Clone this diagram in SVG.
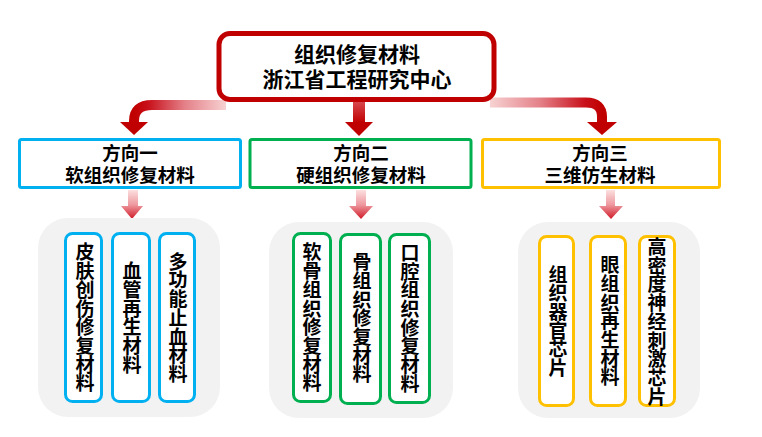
<svg xmlns="http://www.w3.org/2000/svg" width="762" height="437" viewBox="0 0 762 437">
<defs>
<style>
.t{font-family:"Noto Sans CJK SC","Noto Sans",sans-serif;font-weight:bold;fill:#000;text-anchor:middle}
.h1{font-size:21px}
.h2{font-size:18.5px}
.v{font-size:19px;writing-mode:vertical-rl;letter-spacing:-0.3px}
.panel{fill:#F2F2F2}
.dir{fill:#fff;stroke-width:3}
.item{fill:#fff;stroke-width:3}
.blue{stroke:#00B0F0}
.green{stroke:#00B050}
.yellow{stroke:#FFC000}
.head{fill:#C00000}
</style>
<linearGradient id="gL" gradientUnits="userSpaceOnUse" x1="226" y1="0" x2="134" y2="0">
<stop offset="0" stop-color="#F7D2D2"/>
<stop offset="0.45" stop-color="#E48088"/>
<stop offset="0.85" stop-color="#C8101A"/>
<stop offset="1" stop-color="#C00000"/>
</linearGradient>
<linearGradient id="gR" gradientUnits="userSpaceOnUse" x1="490" y1="0" x2="602" y2="0">
<stop offset="0" stop-color="#F7D2D2"/>
<stop offset="0.45" stop-color="#E48088"/>
<stop offset="0.85" stop-color="#C8101A"/>
<stop offset="1" stop-color="#C00000"/>
</linearGradient>
<linearGradient id="gM" x1="0" y1="0" x2="0" y2="1">
<stop offset="0" stop-color="#D84A50"/>
<stop offset="1" stop-color="#C00000"/>
</linearGradient>
<linearGradient id="gD" x1="0" y1="0" x2="0" y2="1">
<stop offset="0" stop-color="#FCE0E0"/>
<stop offset="0.5" stop-color="#EE9AA0"/>
<stop offset="1" stop-color="#D01A28"/>
</linearGradient>
</defs>
<rect width="762" height="437" fill="#fff"/>

<g id="connectors">
<path d="M226 105 L152 105 Q134 105 134 121 L134 123" fill="none" stroke="url(#gL)" stroke-width="10"/>
<polygon class="head" points="120,122 148,122 134,135"/>
<path d="M490 102.5 L586 102.5 Q602 102.5 602 117 L602 123" fill="none" stroke="url(#gR)" stroke-width="10"/>
<polygon class="head" points="587,122 617,122 602,135"/>
<rect x="353" y="101" width="12" height="22" fill="url(#gM)"/>
<polygon class="head" points="345,122 373,122 359,136"/>
<path d="M128 190 H138 V206 H143 L132 219 L121 206 H128 Z" fill="url(#gD)"/>
<path d="M356 190 H366 V206 H373 L361 219 L349 206 H356 Z" fill="url(#gD)"/>
<path d="M606 190 H615 V206 H623 L611 219 L599 206 H606 Z" fill="url(#gD)"/>
</g>

<g id="root">
<rect x="219" y="33.5" width="275" height="66" rx="11" fill="#fff" stroke="#C00000" stroke-width="5"/>
<text class="t h1"><tspan x="357" y="62">组织修复材料</tspan><tspan x="357" y="87">浙江省工程研究中心</tspan></text>
</g>

<g id="dir1">
<rect class="dir blue" x="19.5" y="139.5" width="221" height="48" rx="2"/>
<text class="t h2"><tspan x="130" y="159.5">方向一</tspan><tspan x="130" y="182">软组织修复材料</tspan></text>
</g>
<g id="dir2">
<rect class="dir green" x="250" y="139.5" width="221" height="48" rx="2"/>
<text class="t h2"><tspan x="361" y="159.5">方向二</tspan><tspan x="361" y="182">硬组织修复材料</tspan></text>
</g>
<g id="dir3">
<rect class="dir yellow" x="482.5" y="139.5" width="237" height="48" rx="2"/>
<text class="t h2"><tspan x="600" y="159.5">方向三</tspan><tspan x="600" y="182">三维仿生材料</tspan></text>
</g>

<g id="panel1">
<rect class="panel" x="38" y="218" width="182" height="199" rx="30"/>
</g>
<g id="panel2">
<rect class="panel" x="269" y="222" width="184" height="196" rx="30"/>
</g>
<g id="panel3">
<rect class="panel" x="518" y="222" width="182" height="196" rx="30"/>
</g>

<g id="item1a">
<rect class="item blue" x="65.5" y="233.5" width="36" height="168" rx="7"/>
<text class="t v" x="85" y="317.5">皮肤创伤修复材料</text>
</g>
<g id="item1b">
<rect class="item blue" x="112.5" y="233.5" width="37" height="168" rx="7"/>
<text class="t v" x="132" y="317.5">血管再生材料</text>
</g>
<g id="item1c">
<rect class="item blue" x="159.5" y="233.5" width="35" height="168" rx="7"/>
<text class="t v" x="178" y="317.5">多功能止血材料</text>
</g>

<g id="item2a">
<rect class="item green" x="293.5" y="233.5" width="37" height="168" rx="7"/>
<text class="t v" x="312" y="317.5">软骨组织修复材料</text>
</g>
<g id="item2b">
<rect class="item green" x="340.5" y="234.5" width="40" height="169" rx="7"/>
<text class="t v" x="362" y="318">骨组织修复材料</text>
</g>
<g id="item2c">
<rect class="item green" x="389.5" y="234.5" width="40" height="168" rx="7"/>
<text class="t v" x="410" y="318">口腔组织修复材料</text>
</g>

<g id="item3a">
<rect class="item yellow" x="539.5" y="236.5" width="34" height="169" rx="7"/>
<text class="t v" x="558" y="321">组织器官芯片</text>
</g>
<g id="item3b">
<rect class="item yellow" x="590.5" y="236.5" width="35" height="169" rx="7"/>
<text class="t v" x="610" y="321">眼组织再生材料</text>
</g>
<g id="item3c">
<rect class="item yellow" x="639.5" y="236.5" width="35" height="169" rx="7"/>
<text class="t v" x="657" y="321.5">高密度神经刺激芯片</text>
</g>
</svg>
